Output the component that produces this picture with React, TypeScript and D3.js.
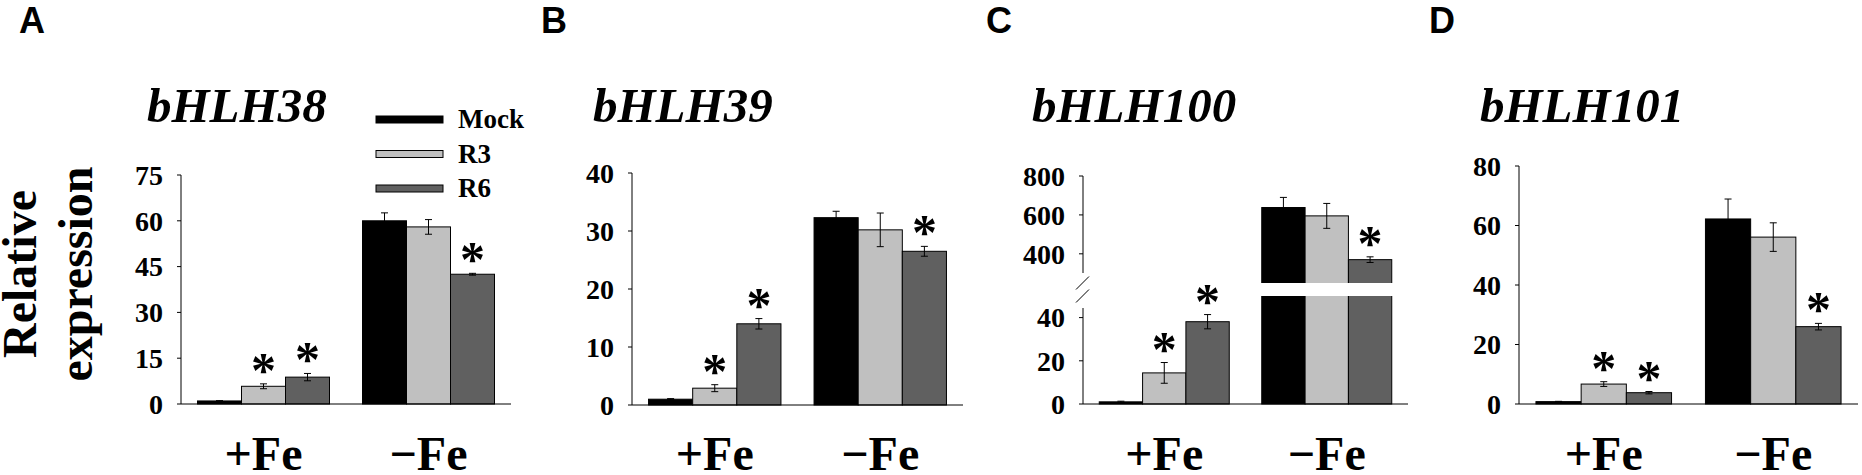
import React from 'react';
import * as d3 from 'd3';

// ---------- data ----------
const groups = ['+Fe', '\u2212Fe'];
const seriesNames = ['Mock', 'R3', 'R6'];
const seriesColors = ['#000000', '#c0c0c0', '#606060'];

const panelLetters = ['A', 'B', 'C', 'D'];
const geneNames = ['bHLH38', 'bHLH39', 'bHLH100', 'bHLH101'];

// means [group][series]
const bhlh38Means = [[1, 5.8, 8.8], [60, 58, 42.5]];
const bhlh38Errors = [[0.1, 0.8, 1.2], [2.6, 2.4, 0.3]];
const bhlh38Sig = [[false, true, true], [false, false, true]];
const bhlh38Ticks = [0, 15, 30, 45, 60, 75];

const bhlh39Means = [[1, 2.9, 14], [32.3, 30.2, 26.5]];
const bhlh39Errors = [[0.1, 0.6, 0.9], [1.1, 2.9, 0.85]];
const bhlh39Sig = [[false, true, true], [false, false, true]];
const bhlh39Ticks = [0, 10, 20, 30, 40];

const bhlh100Means = [[1, 14.4, 38.1], [638, 595, 370]];
const bhlh100Errors = [[0.3, 4.8, 3.3], [52, 64, 14.5]];
const bhlh100Sig = [[false, true, true], [false, false, true]];
const bhlh100TicksLow = [0, 20, 40];
const bhlh100TicksHigh = [400, 600, 800];
const bhlh100Break = [50, 250];

const bhlh101Means = [[0.8, 6.7, 3.8], [62.2, 56.1, 26]];
const bhlh101Errors = [[0.1, 0.8, 0.4], [6.7, 4.8, 1.1]];
const bhlh101Sig = [[false, true, true], [false, false, true]];
const bhlh101Ticks = [0, 20, 40, 60, 80];

// ---------- layout ----------
const SERIF = '"Liberation Serif", "Times New Roman", serif';
const SANS = '"Liberation Sans", Arial, sans-serif';

const panels = [
  { means: bhlh38Means, errors: bhlh38Errors, sig: bhlh38Sig, ticks: bhlh38Ticks,
    letterX: 19, titleX: 147, axisX: 181, xEnd: 511,
    y: d3.scaleLinear().domain([0, 75]).range([404, 175]), legend: true },
  { means: bhlh39Means, errors: bhlh39Errors, sig: bhlh39Sig, ticks: bhlh39Ticks,
    letterX: 541, titleX: 593, axisX: 632, xEnd: 963,
    y: d3.scaleLinear().domain([0, 40]).range([405, 173]) },
  { means: bhlh100Means, errors: bhlh100Errors, sig: bhlh100Sig, ticks: [...bhlh100TicksLow, ...bhlh100TicksHigh],
    letterX: 986, titleX: 1032, axisX: 1083, xEnd: 1408,
    y: d3.scaleLinear().domain([0, bhlh100Break[0], bhlh100Break[1], 800]).range([404, 296, 283, 176]), broken: true },
  { means: bhlh101Means, errors: bhlh101Errors, sig: bhlh101Sig, ticks: bhlh101Ticks,
    letterX: 1429, titleX: 1480, axisX: 1519, xEnd: 1858,
    y: d3.scaleLinear().domain([0, 80]).range([404, 166]) },
];

function Panel({ p, idx }: { p: any; idx: number }) {
  const x0 = d3.scaleBand().domain(groups).range([p.axisX, p.xEnd]).paddingInner(0.2).paddingOuter(0.1);
  const x1 = d3.scaleBand().domain(seriesNames).range([0, x0.bandwidth()]).padding(0);
  const y = p.y;
  const yBase = y(0);
  const capW = 7;

  return (
    <g>
      <text x={p.letterX} y={33} fontFamily={SANS} fontWeight="bold" fontSize={36}>{panelLetters[idx]}</text>
      <text x={p.titleX} y={122} fontFamily={SERIF} fontWeight="bold" fontStyle="italic" fontSize={49}>{geneNames[idx]}</text>

      {/* bars */}
      {groups.map((g, gi) => (
        <g key={g}>
          {seriesNames.map((s, si) => {
            const v = p.means[gi][si];
            const bx = (x0(g) as number) + (x1(s) as number);
            return (
              <rect key={s} x={bx} y={y(v)} width={x1.bandwidth()} height={yBase - y(v)}
                fill={seriesColors[si]} stroke="#000" strokeWidth={1} />
            );
          })}
        </g>
      ))}
      {p.broken && (
        <rect x={(x0(groups[1]) as number) - 2} y={y(bhlh100Break[1])} width={x0.bandwidth() + 4}
          height={y(bhlh100Break[0]) - y(bhlh100Break[1])} fill="#fff" />
      )}

      {/* error bars and significance */}
      {groups.map((g, gi) => (
        <g key={'e' + g}>
          {seriesNames.map((s, si) => {
            const m = p.means[gi][si];
            const e = p.errors[gi][si];
            const cx = (x0(g) as number) + (x1(s) as number) + x1.bandwidth() / 2;
            const yt = y(m + e);
            const yb = y(Math.max(0, m - e));
            return (
              <g key={s}>
                <line x1={cx} x2={cx} y1={yt} y2={yb} stroke="#000" strokeWidth={1} />
                <line x1={cx - capW / 2} x2={cx + capW / 2} y1={yt} y2={yt} stroke="#000" strokeWidth={1} />
                <line x1={cx - capW / 2} x2={cx + capW / 2} y1={yb} y2={yb} stroke="#000" strokeWidth={1} />
                {p.sig[gi][si] && (
                  <text x={cx} y={yt + 3} textAnchor="middle" fontFamily={SERIF} fontWeight="bold" fontSize={50}>*</text>
                )}
              </g>
            );
          })}
        </g>
      ))}

      {/* axes */}
      {p.broken ? (
        <g>
          <line x1={p.axisX} x2={p.axisX} y1={y(800)} y2={y(bhlh100Break[1]) - 10} stroke="#000" />
          <line x1={p.axisX} x2={p.axisX} y1={y(bhlh100Break[0]) + 12} y2={yBase} stroke="#000" />
          <line x1={p.axisX - 7} x2={p.axisX + 6} y1={y(bhlh100Break[1]) + 6.5} y2={y(bhlh100Break[1]) - 6.5} stroke="#000" />
          <line x1={p.axisX - 7} x2={p.axisX + 6} y1={y(bhlh100Break[0]) + 6.5} y2={y(bhlh100Break[0]) - 6.5} stroke="#000" />
        </g>
      ) : (
        <line x1={p.axisX} x2={p.axisX} y1={y(p.ticks[p.ticks.length - 1])} y2={yBase} stroke="#000" />
      )}
      <line x1={p.axisX} x2={p.xEnd} y1={yBase} y2={yBase} stroke="#000" />
      {p.ticks.map((t: number) => (
        <g key={t}>
          <line x1={p.axisX - 4} x2={p.axisX} y1={y(t)} y2={y(t)} stroke="#000" />
          <text x={p.axisX - 18} y={y(t)} dy="0.35em" textAnchor="end" fontFamily={SERIF} fontWeight="bold" fontSize={28}>{t}</text>
        </g>
      ))}

      {/* category labels */}
      {groups.map((g) => (
        <text key={'l' + g} x={(x0(g) as number) + x0.bandwidth() / 2} y={470} textAnchor="middle"
          fontFamily={SERIF} fontWeight="bold" fontSize={48}>{g}</text>
      ))}

      {p.legend && seriesNames.map((s, si) => (
        <g key={'lg' + s}>
          <rect x={376} y={116 + si * 34.5} width={67} height={7} fill={seriesColors[si]} stroke="#000" strokeWidth={1} />
          <text x={458} y={128 + si * 34.5} fontFamily={SERIF} fontWeight="bold" fontSize={27}>{s}</text>
        </g>
      ))}
    </g>
  );
}

export default function App() {
  return (
    <svg width={1862} height={475} style={{ position: 'absolute', left: 0, top: 0, background: '#fff' }}>
      <rect width={1862} height={475} fill="#fff" />
      <g transform="translate(36,274) rotate(-90)">
        <text x={0} y={0} textAnchor="middle" fontFamily={SERIF} fontWeight="bold" fontSize={48}>Relative</text>
        <text x={0} y={56} textAnchor="middle" fontFamily={SERIF} fontWeight="bold" fontSize={48}>expression</text>
      </g>
      {panels.map((p, i) => <Panel key={i} p={p} idx={i} />)}
    </svg>
  );
}
